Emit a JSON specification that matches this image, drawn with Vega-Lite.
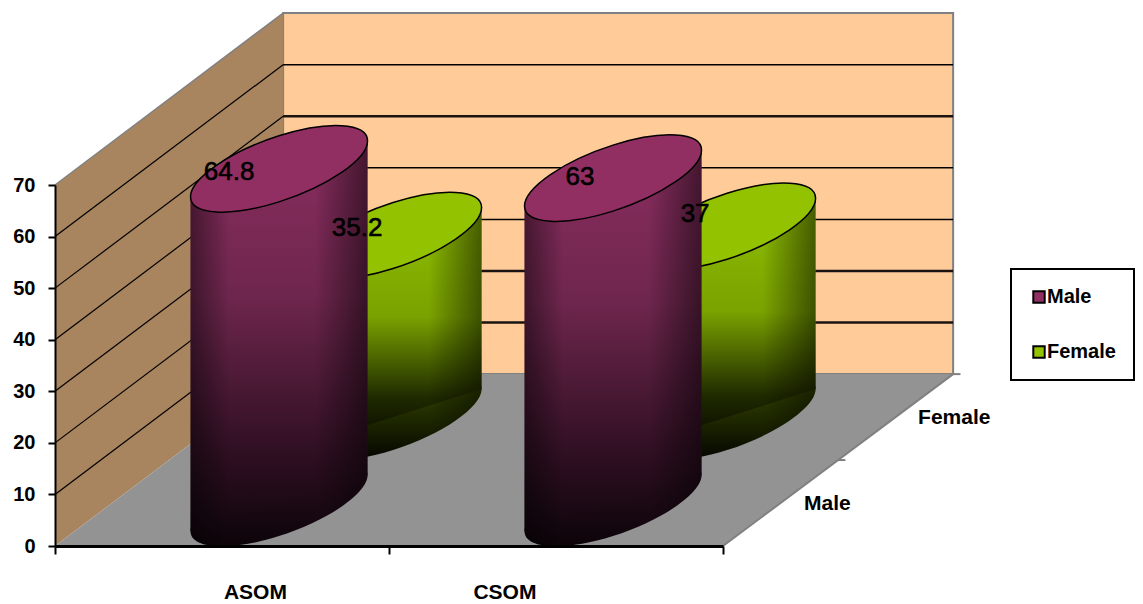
{
  "$schema": "https://vega.github.io/schema/vega-lite/v6.json",
  "width": 668,
  "height": 361,
  "autosize": "none",
  "padding": {"left": 55, "top": 185, "right": 420, "bottom": 58},
  "background": "white",
  "config": {
    "view": {"stroke": null},
    "text": {"font": "Liberation Sans"},
    "axis": {"labelFont": "Liberation Sans", "labelFontSize": 20, "labelFontWeight": "bold", "labelColor": "#000", "tickColor": "#000", "domainColor": "#000", "grid": false},
    "legend": {"strokeWidth": 2}
  },
  "layer": [
    {
      "description": "Back wall of the box",
      "data": {"values": [{"x0": 0.683, "x1": 2.689, "lo": 33.33, "hi": 103.33}]},
      "mark": {"type": "rect", "fill": "#FFCC99", "stroke": "#808080", "strokeWidth": 2},
      "encoding": {
        "x": {"field": "x0", "type": "quantitative", "title": null, "scale": {"domain": [0, 2], "nice": false, "zero": false},
          "axis": {"values": [0, 1, 2], "labels": false, "tickSize": 8, "tickWidth": 2, "domainWidth": 3, "zindex": 1}},
        "x2": {"field": "x1"},
        "y": {"field": "lo", "type": "quantitative", "title": null, "scale": {"domain": [0, 70], "nice": false, "zero": false},
          "axis": {"values": [0, 10, 20, 30, 40, 50, 60, 70], "tickSize": 7, "tickWidth": 2, "domainWidth": 2, "labelPadding": 13, "zindex": 1}},
        "y2": {"field": "hi"}
      }
    },
    {
      "description": "Side wall of the box",
      "data": {"values": [{"x": 0, "lo": 0, "hi": 70}, {"x": 0.683, "lo": 33.33, "hi": 103.33}]},
      "mark": {"type": "area", "fill": "#A8845F", "opacity": 1},
      "encoding": {
        "x": {"field": "x", "type": "quantitative"},
        "y": {"field": "lo", "type": "quantitative"},
        "y2": {"field": "hi"}
      }
    },
    {
      "description": "Floor of the box",
      "data": {"values": [{"y": 0, "xa": 0, "xb": 2}, {"y": 33.33, "xa": 0.683, "xb": 2.689}]},
      "mark": {"type": "area", "orient": "horizontal", "fill": "#939393", "opacity": 1},
      "encoding": {
        "y": {"field": "y", "type": "quantitative"},
        "x": {"field": "xa", "type": "quantitative"},
        "x2": {"field": "xb"}
      }
    },
    {
      "description": "Gridlines on the back wall, thin ones",
      "data": {"values": [{"v": 60, "from": 0.683, "to": 2.689}, {"v": 40, "from": 0.683, "to": 2.689}, {"v": 30, "from": 0.683, "to": 2.689}]},
      "transform": [{"calculate": "datum.v + 33.33", "as": "back"}],
      "mark": {"type": "rule", "color": "#000", "strokeWidth": 1.5},
      "encoding": {
        "x": {"field": "from", "type": "quantitative"},
        "x2": {"field": "to"},
        "y": {"field": "back", "type": "quantitative"}
      }
    },
    {
      "description": "Gridlines on the back wall, heavy ones",
      "data": {"values": [{"v": 50, "from": 0.683, "to": 2.689}, {"v": 20, "from": 0.683, "to": 2.689}, {"v": 10, "from": 0.683, "to": 2.689}]},
      "transform": [{"calculate": "datum.v + 33.33", "as": "back"}],
      "mark": {"type": "rule", "color": "#1a1210", "strokeWidth": 2.5},
      "encoding": {
        "x": {"field": "from", "type": "quantitative"},
        "x2": {"field": "to"},
        "y": {"field": "back", "type": "quantitative"}
      }
    },
    {
      "description": "Gridlines running up the side wall",
      "data": {"values": [
        {"v": 10, "from": 0, "to": 0.683}, {"v": 20, "from": 0, "to": 0.683}, {"v": 30, "from": 0, "to": 0.683},
        {"v": 40, "from": 0, "to": 0.683}, {"v": 50, "from": 0, "to": 0.683}, {"v": 60, "from": 0, "to": 0.683}
      ]},
      "transform": [{"calculate": "datum.v + 33.33", "as": "back"}],
      "mark": {"type": "rule", "color": "#000", "strokeWidth": 1.2},
      "encoding": {
        "x": {"field": "from", "type": "quantitative"},
        "x2": {"field": "to"},
        "y": {"field": "v", "type": "quantitative"},
        "y2": {"field": "back"}
      }
    },
    {
      "description": "Top edge of the side wall",
      "data": {"values": [{"v": 70, "back": 103.33, "from": 0, "to": 0.683}]},
      "mark": {"type": "rule", "color": "#808080", "strokeWidth": 1.5},
      "encoding": {
        "x": {"field": "from", "type": "quantitative"},
        "x2": {"field": "to"},
        "y": {"field": "v", "type": "quantitative"},
        "y2": {"field": "back"}
      }
    },
    {
      "description": "Depth axis along the right edge of the floor",
      "data": {"values": [{"v": 0, "back": 33.33, "from": 2, "to": 2.689}]},
      "mark": {"type": "rule", "color": "#808080", "strokeWidth": 2},
      "encoding": {
        "x": {"field": "from", "type": "quantitative"},
        "x2": {"field": "to"},
        "y": {"field": "v", "type": "quantitative"},
        "y2": {"field": "back"}
      }
    },
    {
      "description": "Depth axis tick stubs",
      "data": {"values": [{"d": 0.5}, {"d": 1}]},
      "transform": [
        {"calculate": "2 + 0.689 * datum.d", "as": "from"},
        {"calculate": "datum.from + 0.022", "as": "to"},
        {"calculate": "33.33 * datum.d", "as": "level"}
      ],
      "mark": {"type": "rule", "color": "#808080", "strokeWidth": 2},
      "encoding": {
        "x": {"field": "from", "type": "quantitative"},
        "x2": {"field": "to"},
        "y": {"field": "level", "type": "quantitative"}
      }
    },
    {
      "description": "Cylinders, one per row, back series first",
      "data": {"values": [
        {"category": "ASOM", "series": "Male", "value": 64.8},
        {"category": "ASOM", "series": "Female", "value": 35.2},
        {"category": "CSOM", "series": "Male", "value": 63},
        {"category": "CSOM", "series": "Female", "value": 37}
      ]},
      "transform": [
        {"calculate": "datum.series === 'Male' ? 0.25 : 0.75", "as": "depth"},
        {"calculate": "indexof(['ASOM', 'CSOM'], datum.category) + 0.5 + 0.683 * datum.depth", "as": "cx"},
        {"calculate": "33.33 * datum.depth", "as": "base"},
        {"calculate": "datum.value + datum.base", "as": "top"}
      ],
      "layer": [
        {
          "transform": [{"filter": "datum.series === 'Female'"}],
          "layer": [
            {
              "mark": {"type": "point", "shape": "M1,-0.316C1,-0.11,0.552,0.198,0,0.373C-0.552,0.548,-1,0.522,-1,0.316C-1,0.11,-0.552,-0.198,0,-0.373C0.552,-0.548,1,-0.522,1,-0.316Z", "size": 31329, "filled": true, "opacity": 1, "fill": {"x1": 0, "y1": 0, "x2": 0, "y2": 1, "gradient": "linear", "stops": [
                {"offset": 0, "color": "#3a4f00"}, {"offset": 1, "color": "#040500"}
              ]}},
              "encoding": {
                "x": {"field": "cx", "type": "quantitative"},
                "y": {"field": "base", "type": "quantitative"}
              }
            },
            {
              "mark": {"type": "point", "shape": "M1,-0.316C1,-0.11,0.552,0.198,0,0.373C-0.552,0.548,-1,0.522,-1,0.316C-1,0.11,-0.552,-0.198,0,-0.373C0.552,-0.548,1,-0.522,1,-0.316Z", "size": 31329, "filled": true, "opacity": 1, "fill": {"x1": 0, "y1": 0, "x2": 1, "y2": 0, "gradient": "linear", "stops": [
                {"offset": 0, "color": "rgba(0,0,0,0.45)"}, {"offset": 0.22, "color": "rgba(0,0,0,0)"}, {"offset": 0.7, "color": "rgba(0,0,0,0)"}, {"offset": 1, "color": "rgba(0,0,0,0.5)"}
              ]}},
              "encoding": {
                "x": {"field": "cx", "type": "quantitative"},
                "y": {"field": "base", "type": "quantitative"}
              }
            },
            {
              "description": "Silhouette of the barrel, running between the sides of its two end caps",
              "transform": [
                {"calculate": "[-1, 1]", "as": "side"},
                {"flatten": ["side"]},
                {"calculate": "datum.cx + 0.265 * datum.side", "as": "edge"},
                {"calculate": "datum.top + 5.43 * datum.side", "as": "upper"},
                {"calculate": "datum.base + 5.43 * datum.side", "as": "lower"}
              ],
              "layer": [
                {
                  "mark": {"type": "area", "opacity": 1, "fill": {"x1": 0, "y1": 0, "x2": 0, "y2": 1, "gradient": "linear", "stops": [
                    {"offset": 0, "color": "#8fbf00"}, {"offset": 0.46, "color": "#7aa200"}, {"offset": 0.8, "color": "#1f2a00"}, {"offset": 1, "color": "#050700"}
                  ]}},
                  "encoding": {
                    "x": {"field": "edge", "type": "quantitative"},
                    "y": {"field": "upper", "type": "quantitative"},
                    "y2": {"field": "lower"},
                    "detail": {"field": "category"}
                  }
                },
                {
                  "mark": {"type": "area", "opacity": 1, "fill": {"x1": 0, "y1": 0, "x2": 1, "y2": 0, "gradient": "linear", "stops": [
                    {"offset": 0, "color": "rgba(0,0,0,0.45)"}, {"offset": 0.22, "color": "rgba(0,0,0,0)"}, {"offset": 0.7, "color": "rgba(0,0,0,0)"}, {"offset": 1, "color": "rgba(0,0,0,0.5)"}
                  ]}},
                  "encoding": {
                    "x": {"field": "edge", "type": "quantitative"},
                    "y": {"field": "upper", "type": "quantitative"},
                    "y2": {"field": "lower"},
                    "detail": {"field": "category"}
                  }
                }
              ]
            },
            {
              "mark": {"type": "point", "shape": "M1,-0.316C1,-0.11,0.552,0.198,0,0.373C-0.552,0.548,-1,0.522,-1,0.316C-1,0.11,-0.552,-0.198,0,-0.373C0.552,-0.548,1,-0.522,1,-0.316Z", "size": 31329, "filled": true, "stroke": "#000", "strokeWidth": 1.5, "opacity": 1},
              "encoding": {
                "x": {"field": "cx", "type": "quantitative"},
                "y": {"field": "top", "type": "quantitative"},
                "color": {"field": "series", "type": "nominal",
                  "scale": {"domain": ["Male", "Female"], "range": ["#922F62", "#93C200"]},
                  "legend": {"title": null, "orient": "none", "legendX": 956, "legendY": 84, "fillColor": "#fff", "strokeColor": "#000", "padding": 18, "symbolType": "square", "symbolSize": 130, "symbolStrokeColor": "#000", "symbolStrokeWidth": 2, "labelOffset": -2, "rowPadding": 35, "labelFont": "Liberation Sans", "labelFontSize": 20, "labelFontWeight": "bold", "labelColor": "#000",
                    "encoding": {"symbols": {"update": {"fill": {"signal": "datum.value === 'Male' ? {id: 'male-swatch', gradient: 'linear', x1: 0, y1: 0, x2: 0, y2: 1, stops: [{offset: 0, color: '#922F62'}, {offset: 1, color: '#3a1028'}]} : {id: 'female-swatch', gradient: 'linear', x1: 0, y1: 0, x2: 0, y2: 1, stops: [{offset: 0, color: '#93C200'}, {offset: 1, color: '#3a4f00'}]}"}}}}}
                }
              }
            }
          ]
        },
        {
          "transform": [{"filter": "datum.series === 'Male'"}],
          "layer": [
            {
              "mark": {"type": "point", "shape": "M1,-0.316C1,-0.11,0.552,0.198,0,0.373C-0.552,0.548,-1,0.522,-1,0.316C-1,0.11,-0.552,-0.198,0,-0.373C0.552,-0.548,1,-0.522,1,-0.316Z", "size": 31329, "filled": true, "opacity": 1, "fill": {"x1": 0, "y1": 0, "x2": 0, "y2": 1, "gradient": "linear", "stops": [
                {"offset": 0, "color": "#2c0e20"}, {"offset": 1, "color": "#0c0409"}
              ]}},
              "encoding": {
                "x": {"field": "cx", "type": "quantitative"},
                "y": {"field": "base", "type": "quantitative"}
              }
            },
            {
              "mark": {"type": "point", "shape": "M1,-0.316C1,-0.11,0.552,0.198,0,0.373C-0.552,0.548,-1,0.522,-1,0.316C-1,0.11,-0.552,-0.198,0,-0.373C0.552,-0.548,1,-0.522,1,-0.316Z", "size": 31329, "filled": true, "opacity": 1, "fill": {"x1": 0, "y1": 0, "x2": 1, "y2": 0, "gradient": "linear", "stops": [
                {"offset": 0, "color": "rgba(0,0,0,0.45)"}, {"offset": 0.22, "color": "rgba(0,0,0,0)"}, {"offset": 0.7, "color": "rgba(0,0,0,0)"}, {"offset": 1, "color": "rgba(0,0,0,0.5)"}
              ]}},
              "encoding": {
                "x": {"field": "cx", "type": "quantitative"},
                "y": {"field": "base", "type": "quantitative"}
              }
            },
            {
              "description": "Silhouette of the barrel, running between the sides of its two end caps",
              "transform": [
                {"calculate": "[-1, 1]", "as": "side"},
                {"flatten": ["side"]},
                {"calculate": "datum.cx + 0.265 * datum.side", "as": "edge"},
                {"calculate": "datum.top + 5.43 * datum.side", "as": "upper"},
                {"calculate": "datum.base + 5.43 * datum.side", "as": "lower"}
              ],
              "layer": [
                {
                  "mark": {"type": "area", "opacity": 1, "fill": {"x1": 0, "y1": 0, "x2": 0, "y2": 1, "gradient": "linear", "stops": [
                    {"offset": 0, "color": "#8a2d60"}, {"offset": 0.4, "color": "#6e264d"}, {"offset": 0.8, "color": "#2f0f22"}, {"offset": 1, "color": "#12060e"}
                  ]}},
                  "encoding": {
                    "x": {"field": "edge", "type": "quantitative"},
                    "y": {"field": "upper", "type": "quantitative"},
                    "y2": {"field": "lower"},
                    "detail": {"field": "category"}
                  }
                },
                {
                  "mark": {"type": "area", "opacity": 1, "fill": {"x1": 0, "y1": 0, "x2": 1, "y2": 0, "gradient": "linear", "stops": [
                    {"offset": 0, "color": "rgba(0,0,0,0.45)"}, {"offset": 0.22, "color": "rgba(0,0,0,0)"}, {"offset": 0.7, "color": "rgba(0,0,0,0)"}, {"offset": 1, "color": "rgba(0,0,0,0.5)"}
                  ]}},
                  "encoding": {
                    "x": {"field": "edge", "type": "quantitative"},
                    "y": {"field": "upper", "type": "quantitative"},
                    "y2": {"field": "lower"},
                    "detail": {"field": "category"}
                  }
                }
              ]
            },
            {
              "mark": {"type": "point", "shape": "M1,-0.316C1,-0.11,0.552,0.198,0,0.373C-0.552,0.548,-1,0.522,-1,0.316C-1,0.11,-0.552,-0.198,0,-0.373C0.552,-0.548,1,-0.522,1,-0.316Z", "size": 31329, "filled": true, "stroke": "#000", "strokeWidth": 1.5, "opacity": 1},
              "encoding": {
                "x": {"field": "cx", "type": "quantitative"},
                "y": {"field": "top", "type": "quantitative"},
                "color": {"field": "series", "type": "nominal",
                  "legend": {"title": null, "orient": "none", "legendX": 956, "legendY": 84, "fillColor": "#fff", "strokeColor": "#000", "padding": 18, "symbolType": "square", "symbolSize": 130, "symbolStrokeColor": "#000", "symbolStrokeWidth": 2, "labelOffset": -2, "rowPadding": 35, "labelFont": "Liberation Sans", "labelFontSize": 20, "labelFontWeight": "bold", "labelColor": "#000",
                    "encoding": {"symbols": {"update": {"fill": {"signal": "datum.value === 'Male' ? {id: 'male-swatch', gradient: 'linear', x1: 0, y1: 0, x2: 0, y2: 1, stops: [{offset: 0, color: '#922F62'}, {offset: 1, color: '#3a1028'}]} : {id: 'female-swatch', gradient: 'linear', x1: 0, y1: 0, x2: 0, y2: 1, stops: [{offset: 0, color: '#93C200'}, {offset: 1, color: '#3a4f00'}]}"}}}}}
                }
              }
            }
          ]
        },
        {
          "transform": [{"filter": "datum.category === 'ASOM' && datum.series === 'Male'"}],
          "mark": {"type": "text", "fontSize": 26, "color": "#000", "stroke": "#000", "strokeWidth": 0.6, "dx": -50, "dy": 3},
          "encoding": {
            "x": {"field": "cx", "type": "quantitative"},
            "y": {"field": "top", "type": "quantitative"},
            "text": {"field": "value", "type": "nominal"}
          }
        },
        {
          "transform": [{"filter": "datum.category === 'ASOM' && datum.series === 'Female'"}],
          "mark": {"type": "text", "fontSize": 26, "color": "#000", "stroke": "#000", "strokeWidth": 0.6, "dx": -36, "dy": -8},
          "encoding": {
            "x": {"field": "cx", "type": "quantitative"},
            "y": {"field": "top", "type": "quantitative"},
            "text": {"field": "value", "type": "nominal"}
          }
        },
        {
          "transform": [{"filter": "datum.category === 'CSOM' && datum.series === 'Male'"}],
          "mark": {"type": "text", "fontSize": 26, "color": "#000", "stroke": "#000", "strokeWidth": 0.6, "dx": -33, "dy": -1},
          "encoding": {
            "x": {"field": "cx", "type": "quantitative"},
            "y": {"field": "top", "type": "quantitative"},
            "text": {"field": "value", "type": "nominal"}
          }
        },
        {
          "transform": [{"filter": "datum.category === 'CSOM' && datum.series === 'Female'"}],
          "mark": {"type": "text", "fontSize": 26, "color": "#000", "stroke": "#000", "strokeWidth": 0.6, "dx": -32, "dy": -12},
          "encoding": {
            "x": {"field": "cx", "type": "quantitative"},
            "y": {"field": "top", "type": "quantitative"},
            "text": {"field": "value", "type": "nominal"}
          }
        }
      ]
    },
    {
      "description": "Series names along the depth axis",
      "data": {"values": [{"series": "Male", "depth": 0.25}, {"series": "Female", "depth": 0.75}]},
      "transform": [
        {"calculate": "2 + 0.683 * datum.depth", "as": "edge"},
        {"calculate": "33.33 * datum.depth", "as": "level"}
      ],
      "mark": {"type": "text", "align": "left", "baseline": "middle", "dx": 24, "dy": 1, "fontSize": 21, "fontWeight": "bold", "color": "#000"},
      "encoding": {
        "x": {"field": "edge", "type": "quantitative"},
        "y": {"field": "level", "type": "quantitative"},
        "text": {"field": "series", "type": "nominal"}
      }
    },
    {
      "description": "Category names under the front edge",
      "data": {"values": [{"category": "ASOM", "at": 0.6, "v": 0}, {"category": "CSOM", "at": 1.347, "v": 0}]},
      "mark": {"type": "text", "baseline": "middle", "dy": 47, "fontSize": 21, "fontWeight": "bold", "color": "#000"},
      "encoding": {
        "x": {"field": "at", "type": "quantitative"},
        "y": {"field": "v", "type": "quantitative"},
        "text": {"field": "category", "type": "nominal"}
      }
    }
  ]
}
